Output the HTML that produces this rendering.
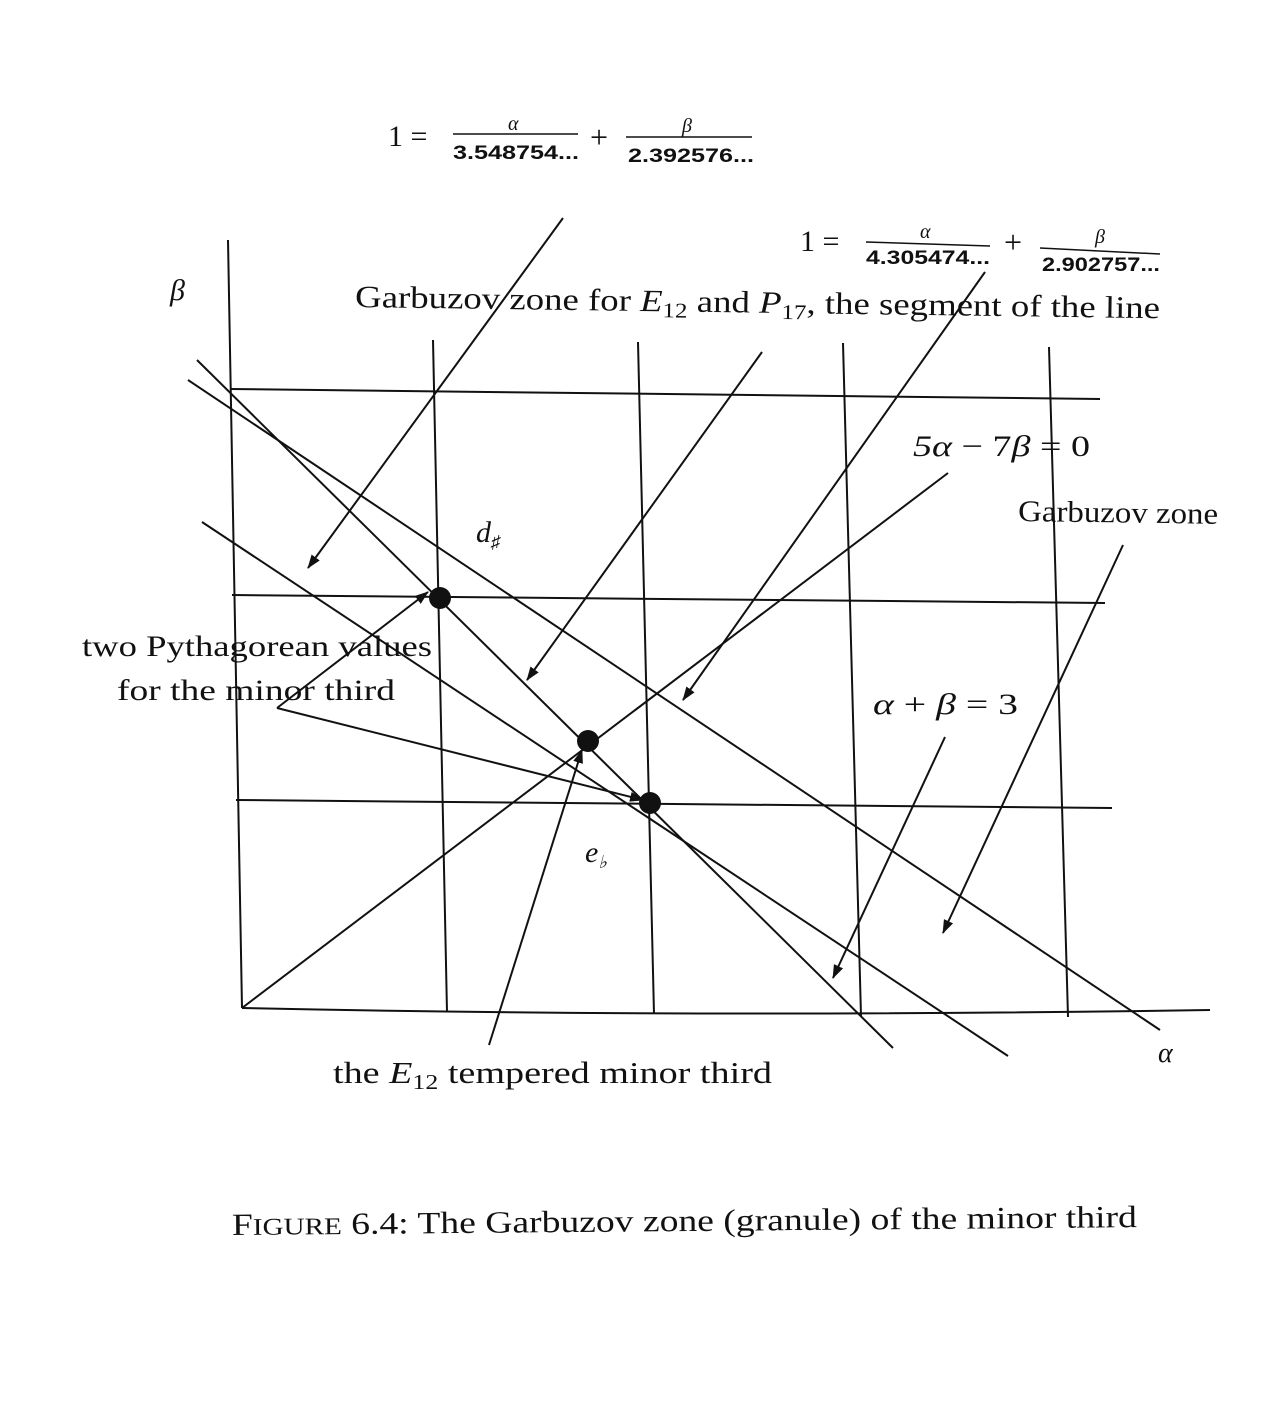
<!DOCTYPE html>
<html><head><meta charset="utf-8"><style>
html,body{margin:0;padding:0;background:#fff;}
svg{display:block;}
text{font-family:"Liberation Serif",serif;fill:#111;}
.s{font-family:"Liberation Sans",sans-serif;font-weight:bold;}
</style></head><body>
<svg width="1275" height="1402" viewBox="0 0 1275 1402" xmlns="http://www.w3.org/2000/svg">
<defs>
<marker id="a" markerWidth="14" markerHeight="10" refX="13" refY="5" orient="auto" markerUnits="userSpaceOnUse">
<path d="M0,0 L14,5 L0,10 Z" fill="#111"/></marker>
</defs>
<g stroke="#111" stroke-width="2" fill="none">
<line x1="228" y1="240" x2="242" y2="1008"/>
<path d="M242,1008 Q700,1018 1210,1010"/>
<line x1="433" y1="340" x2="447" y2="1012"/>
<line x1="638" y1="342" x2="654" y2="1014"/>
<line x1="843" y1="343" x2="861" y2="1016"/>
<line x1="1049" y1="347" x2="1068" y2="1017"/>
<line x1="230" y1="389" x2="1100" y2="399"/>
<line x1="232" y1="595" x2="1105" y2="603"/>
<line x1="236" y1="800" x2="1112" y2="808"/>
<line x1="197" y1="360" x2="893" y2="1048"/>
<line x1="188" y1="380" x2="1160" y2="1030"/>
<line x1="202" y1="522" x2="1008" y2="1056"/>
<line x1="242" y1="1008" x2="948" y2="473"/>
<line x1="563" y1="218" x2="308" y2="568" marker-end="url(#a)"/>
<line x1="762" y1="352" x2="527" y2="680" marker-end="url(#a)"/>
<line x1="985" y1="272" x2="683" y2="700" marker-end="url(#a)"/>
<line x1="1123" y1="545" x2="943" y2="933" marker-end="url(#a)"/>
<line x1="945" y1="737" x2="833" y2="978" marker-end="url(#a)"/>
<line x1="489" y1="1045" x2="582" y2="750" marker-end="url(#a)"/>
<line x1="277" y1="708" x2="428" y2="592" marker-end="url(#a)"/>
<line x1="277" y1="708" x2="643" y2="800" marker-end="url(#a)"/>
<line x1="453" y1="134" x2="578" y2="134" stroke-width="1.5"/>
<line x1="626" y1="137" x2="752" y2="137" stroke-width="1.5"/>
<line x1="866" y1="242" x2="990" y2="246" stroke-width="1.5"/>
<line x1="1040" y1="248" x2="1160" y2="254" stroke-width="1.5"/>
</g>
<g fill="#111">
<circle cx="440" cy="598" r="11"/>
<circle cx="588" cy="741" r="11"/>
<circle cx="650" cy="803" r="11"/>
</g>
<text x="388" y="146" font-size="30">1 =</text>
<text x="508" y="130" font-size="20" font-style="italic">α</text>
<text x="453" y="159" font-size="19" class="s" textLength="126" lengthAdjust="spacingAndGlyphs">3.548754...</text>
<text x="590" y="148" font-size="32">+</text>
<text x="682" y="132" font-size="20" font-style="italic">β</text>
<text x="628" y="162" font-size="19" class="s" textLength="126" lengthAdjust="spacingAndGlyphs">2.392576...</text>

<text x="800" y="251" font-size="30">1 =</text>
<text x="920" y="238" font-size="20" font-style="italic">α</text>
<text x="866" y="264" font-size="19" class="s" textLength="124" lengthAdjust="spacingAndGlyphs">4.305474...</text>
<text x="1004" y="253" font-size="32">+</text>
<text x="1095" y="243" font-size="20" font-style="italic">β</text>
<text x="1042" y="271" font-size="19" class="s" textLength="118" lengthAdjust="spacingAndGlyphs">2.902757...</text>

<text x="170" y="300" font-size="30" font-style="italic">β</text>
<text x="355" y="307" font-size="31" transform="rotate(0.8 355 307)" textLength="805" lengthAdjust="spacingAndGlyphs">Garbuzov zone for <tspan font-style="italic">E</tspan><tspan font-size="21" dy="6">12</tspan><tspan dy="-6"> and </tspan><tspan font-style="italic">P</tspan><tspan font-size="21" dy="6">17</tspan><tspan dy="-6">, the segment of the line</tspan></text>
<text x="913" y="456" font-size="30" textLength="177" lengthAdjust="spacingAndGlyphs"><tspan font-style="italic">5α</tspan> − 7<tspan font-style="italic">β</tspan> = 0</text>
<text x="1018" y="521" font-size="30" transform="rotate(0.8 1018 521)" textLength="200" lengthAdjust="spacingAndGlyphs">Garbuzov zone</text>
<text x="476" y="542" font-size="30" font-style="italic">d<tspan font-size="18" dy="6">♯</tspan></text>
<text x="82" y="656" font-size="30" textLength="350" lengthAdjust="spacingAndGlyphs">two Pythagorean values</text>
<text x="117" y="700" font-size="30" textLength="278" lengthAdjust="spacingAndGlyphs">for the minor third</text>
<text x="873" y="714" font-size="30" textLength="145" lengthAdjust="spacingAndGlyphs"><tspan font-style="italic">α</tspan> + <tspan font-style="italic">β</tspan> = 3</text>
<text x="585" y="862" font-size="30" font-style="italic">e<tspan font-size="18" dy="6">♭</tspan></text>
<text x="333" y="1083" font-size="31" textLength="439" lengthAdjust="spacingAndGlyphs">the <tspan font-style="italic">E</tspan><tspan font-size="21" dy="6">12</tspan><tspan dy="-6"> tempered minor third</tspan></text>
<text x="1158" y="1062" font-size="28" font-style="italic">α</text>
<text x="232" y="1235" font-size="31" transform="rotate(-0.5 232 1235)" textLength="905" lengthAdjust="spacingAndGlyphs">F<tspan font-size="24">IGURE</tspan> 6.4: The Garbuzov zone (granule) of the minor third</text>
</svg>
</body></html>
